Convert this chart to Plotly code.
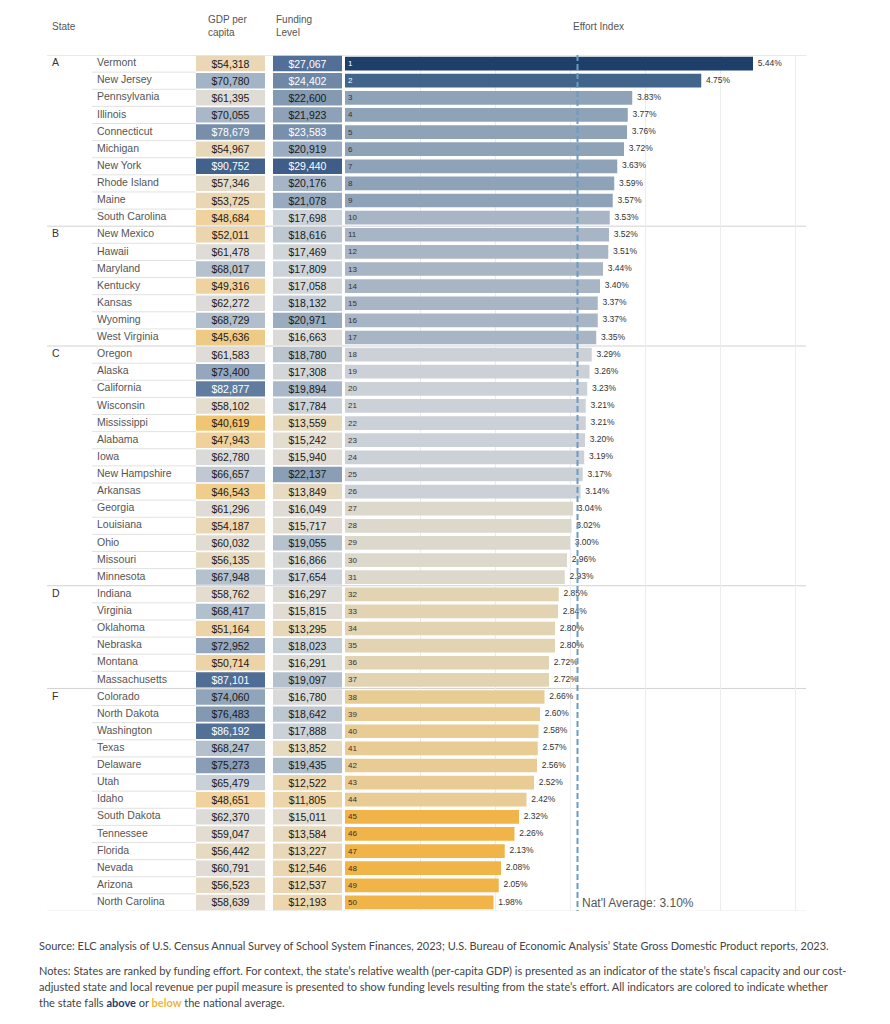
import plotly.graph_objects as go

# ---------------- data ----------------
states = ["Vermont", "New Jersey", "Pennsylvania", "Illinois", "Connecticut", "Michigan", "New York",
          "Rhode Island", "Maine", "South Carolina", "New Mexico", "Hawaii", "Maryland", "Kentucky",
          "Kansas", "Wyoming", "West Virginia", "Oregon", "Alaska", "California", "Wisconsin",
          "Mississippi", "Alabama", "Iowa", "New Hampshire", "Arkansas", "Georgia", "Louisiana", "Ohio",
          "Missouri", "Minnesota", "Indiana", "Virginia", "Oklahoma", "Nebraska", "Montana",
          "Massachusetts", "Colorado", "North Dakota", "Washington", "Texas", "Delaware", "Utah",
          "Idaho", "South Dakota", "Tennessee", "Florida", "Nevada", "Arizona", "North Carolina"]
gdp = [54318, 70780, 61395, 70055, 78679, 54967, 90752, 57346, 53725, 48684, 52011, 61478, 68017,
       49316, 62272, 68729, 45636, 61583, 73400, 82877, 58102, 40619, 47943, 62780, 66657, 46543,
       61296, 54187, 60032, 56135, 67948, 58762, 68417, 51164, 72952, 50714, 87101, 74060, 76483,
       86192, 68247, 75273, 65479, 48651, 62370, 59047, 56442, 60791, 56523, 58639]
funding = [27067, 24402, 22600, 21923, 23583, 20919, 29440, 20176, 21078, 17698, 18616, 17469, 17809,
           17058, 18132, 20971, 16663, 18780, 17308, 19894, 17784, 13559, 15242, 15940, 22137, 13849,
           16049, 15717, 19055, 16866, 17654, 16297, 15815, 13295, 18023, 16291, 19097, 16780, 18642,
           17888, 13852, 19435, 12522, 11805, 15011, 13584, 13227, 12546, 12537, 12193]
effort = [5.44, 4.75, 3.83, 3.77, 3.76, 3.72, 3.63, 3.59, 3.57, 3.53, 3.52, 3.51, 3.44, 3.40, 3.37,
          3.37, 3.35, 3.29, 3.26, 3.23, 3.21, 3.21, 3.20, 3.19, 3.17, 3.14, 3.04, 3.02, 3.00, 2.96,
          2.93, 2.85, 2.84, 2.80, 2.80, 2.72, 2.72, 2.66, 2.60, 2.58, 2.57, 2.56, 2.52, 2.42, 2.32,
          2.26, 2.13, 2.08, 2.05, 1.98]
group_labels = ["A", "B", "C", "D", "F"]
group_starts = [0, 10, 17, 31, 37]
nat_avg = 3.10

# --------------- styling helpers ---------------
W, H = 890, 1024
def px(x): return x / W
def py(y): return 1 - y / H

GDP_MID, GDP_SPAN = 62000, 30000
FUND_MID, FUND_SPAN = 16400, 13100
HIGH_STOPS = [(0, '#dedcd8'), (0.1, '#cdd3da'), (0.2, '#b5c1cd'), (0.3, '#a3b3c6'), (0.4, '#90a4ba'),
              (0.55, '#7890ab'), (0.7, '#5f7c9f'), (0.85, '#4e6c94'), (1.0, '#3d5d87')]
LOW_STOPS = [(0, '#dedcd8'), (0.13, '#e4dccd'), (0.27, '#e9d7b4'), (0.45, '#efd29d'),
             (0.55, '#edca85'), (0.71, '#f0c574'), (1.0, '#f3b94a')]
EFFORT_BINS = [(5.0, '#1f3f6b'), (4.0, '#41648b'), (3.55, '#8fa3b8'), (3.33, '#a8b5c4'),
               (3.10, '#ccd1d8'), (2.90, '#dcd8cc'), (2.70, '#e2d4b2'), (2.40, '#e8cc94'),
               (-1, '#f0b448')]

def hex2rgb(h):
    h = h.lstrip('#')
    return tuple(int(h[i:i + 2], 16) for i in (0, 2, 4))

def interp(stops, t):
    t = max(0.0, min(1.0, t))
    for (t0, c0), (t1, c1) in zip(stops[:-1], stops[1:]):
        if t <= t1:
            f = (t - t0) / (t1 - t0)
            a, b = hex2rgb(c0), hex2rgb(c1)
            return 'rgb(%d,%d,%d)' % tuple(round(a[i] + f * (b[i] - a[i])) for i in range(3))
    return stops[-1][1]

def diverge(v, mid, span):
    t = (v - mid) / span
    return interp(HIGH_STOPS, t) if t >= 0 else interp(LOW_STOPS, -t)

def text_col(v, mid, span):
    return 'white' if (v - mid) / span >= 0.5 else '#1a1a1a'

def effort_col(v):
    for th, c in EFFORT_BINS:
        if v >= th:
            return c

n = len(states)
rows = list(range(n))
FONT = 'Arial'
NBSP = '\u00a0'

fig = go.Figure()

# state names & group letters
fig.add_trace(go.Scatter(x=[50] * n, y=rows, mode='text', text=states, textposition='middle right',
                         textfont=dict(family=FONT, size=10.5, color='#555'), xaxis='x', yaxis='y',
                         hoverinfo='skip', cliponaxis=False))
fig.add_trace(go.Scatter(x=[5] * len(group_labels), y=group_starts, mode='text', text=group_labels,
                         textposition='middle right', textfont=dict(family=FONT, size=10.5, color='#333'),
                         xaxis='x', yaxis='y', hoverinfo='skip', cliponaxis=False))

# GDP per capita cells
fig.add_trace(go.Bar(orientation='h', y=rows, x=[1] * n, base=0, width=0.9, xaxis='x2', yaxis='y',
                     marker=dict(color=[diverge(v, GDP_MID, GDP_SPAN) for v in gdp], line=dict(width=0)),
                     text=[f"${v:,}" for v in gdp], textposition='inside', insidetextanchor='middle',
                     textangle=0,
                     insidetextfont=dict(family=FONT, size=10.5,
                                         color=[text_col(v, GDP_MID, GDP_SPAN) for v in gdp]),
                     constraintext='none', hoverinfo='skip'))
# Funding cells
fig.add_trace(go.Bar(orientation='h', y=rows, x=[1] * n, base=0, width=0.9, xaxis='x3', yaxis='y',
                     marker=dict(color=[diverge(v, FUND_MID, FUND_SPAN) for v in funding], line=dict(width=0)),
                     text=[f"${v:,}" for v in funding], textposition='inside', insidetextanchor='middle',
                     textangle=0,
                     insidetextfont=dict(family=FONT, size=10.5,
                                         color=[text_col(v, FUND_MID, FUND_SPAN) for v in funding]),
                     constraintext='none', hoverinfo='skip'))
# Effort bars
fig.add_trace(go.Bar(orientation='h', y=rows, x=effort, base=0, width=0.8, xaxis='x4', yaxis='y',
                     marker=dict(color=[effort_col(v) for v in effort], line=dict(width=0)),
                     text=[str(i + 1) for i in rows], textposition='inside', insidetextanchor='start',
                     textangle=0,
                     insidetextfont=dict(family=FONT, size=8,
                                         color=['white' if v >= 4.0 else '#333' for v in effort]),
                     constraintext='none', hoverinfo='skip'))
fig.add_trace(go.Scatter(x=effort, y=rows, mode='text', text=[f"{NBSP}{NBSP}{v:.2f}%" for v in effort],
                         textposition='middle right', textfont=dict(family=FONT, size=8.5, color='#333'),
                         xaxis='x4', yaxis='y', hoverinfo='skip', cliponaxis=False))

# --------------- layout ---------------
shapes = []
group_bounds = [s - 0.5 for s in group_starts]
for b in group_bounds:
    shapes.append(dict(type='line', xref='paper', yref='y', x0=px(47), x1=px(806), y0=b, y1=b,
                       line=dict(color='#d2d2d2', width=1), layer='below'))
for i in range(1, n):
    if i not in group_starts:
        shapes.append(dict(type='line', xref='paper', yref='y', x0=px(92), x1=px(196), y0=i - 0.5,
                           y1=i - 0.5, line=dict(color='#e2e2e2', width=1), layer='below'))
shapes.append(dict(type='line', xref='paper', yref='y', x0=px(47), x1=px(806), y0=n - 0.5 + 0.05,
                   y1=n - 0.5 + 0.05, line=dict(color='#dcdcdc', width=2), layer='below'))
shapes.append(dict(type='line', xref='x4', yref='y', x0=nat_avg, x1=nat_avg, y0=-0.5, y1=n - 0.5,
                   line=dict(color='#6a9cc4', width=2, dash='6px,3px'), layer='above'))

hdr = dict(family=FONT, size=10, color='#555')
annotations = [
    dict(x=px(50), y=py(26), xref='paper', yref='paper', text='State', showarrow=False,
         xanchor='left', yanchor='middle', font=hdr),
    dict(x=px(206), y=py(26), xref='paper', yref='paper', text='GDP per<br>capita', showarrow=False,
         xanchor='left', yanchor='middle', align='left', font=hdr),
    dict(x=px(274), y=py(26), xref='paper', yref='paper', text='Funding<br>Level', showarrow=False,
         xanchor='left', yanchor='middle', align='left', font=hdr),
    dict(x=px(598), y=py(26), xref='paper', yref='paper', text='Effort Index', showarrow=False,
         xanchor='center', yanchor='middle', font=hdr),
    dict(x=nat_avg, y=n - 1, xref='x4', yref='y', text="Nat'l Average: 3.10%", showarrow=False,
         xanchor='left', yanchor='middle', xshift=2, yshift=-1, font=dict(family=FONT, size=12, color='#555')),
]
foot = dict(family='Lato', size=11, color='#444')
footer_lines = [
    (945, "Source: ELC analysis of U.S. Census Annual Survey of School System Finances, 2023; U.S. Bureau of Economic Analysis\u2019 State Gross Domestic Product reports, 2023."),
    (970, "Notes: States are ranked by funding effort. For context, the state\u2019s relative wealth (per-capita GDP) is presented as an indicator of the state\u2019s fiscal capacity and our cost-"),
    (986, "adjusted state and local revenue per pupil measure is presented to show funding levels resulting from the state\u2019s effort. All indicators are colored to indicate whether"),
    (1002, "the state falls <b><span style='color:#1f3d7a'>above</span></b> or <b><span style='color:#f0b43c'>below</span></b> the national average."),
]
for y, t in footer_lines:
    annotations.append(dict(x=px(37), y=py(y), xref='paper', yref='paper', text=t, showarrow=False,
                            xanchor='left', yanchor='middle', align='left', font=foot))

def xax(x0, x1, rng, grid=False):
    return dict(domain=[px(x0), px(x1)], range=rng, anchor='y', showgrid=grid, gridcolor='#ececec',
                gridwidth=1, dtick=1, tick0=0, zeroline=False, showticklabels=False, ticks='',
                showline=False, fixedrange=True)

fig.update_layout(
    width=W, height=H, margin=dict(l=0, r=0, t=0, b=0),
    paper_bgcolor='white', plot_bgcolor='rgba(0,0,0,0)', showlegend=False,
    xaxis=xax(47, 195, [0, 148]),
    xaxis2=xax(196, 265, [0, 1]),
    xaxis3=xax(273, 342, [0, 1]),
    xaxis4=xax(345, 806, [0, 461 / 75], grid=True),
    yaxis=dict(domain=[py(911), py(55)], range=[n - 0.5, -0.5], showgrid=False, zeroline=False,
               showticklabels=False, ticks='', fixedrange=True),
    shapes=shapes, annotations=annotations,
    font=dict(family=FONT),
)

fig.write_html("out.html")
